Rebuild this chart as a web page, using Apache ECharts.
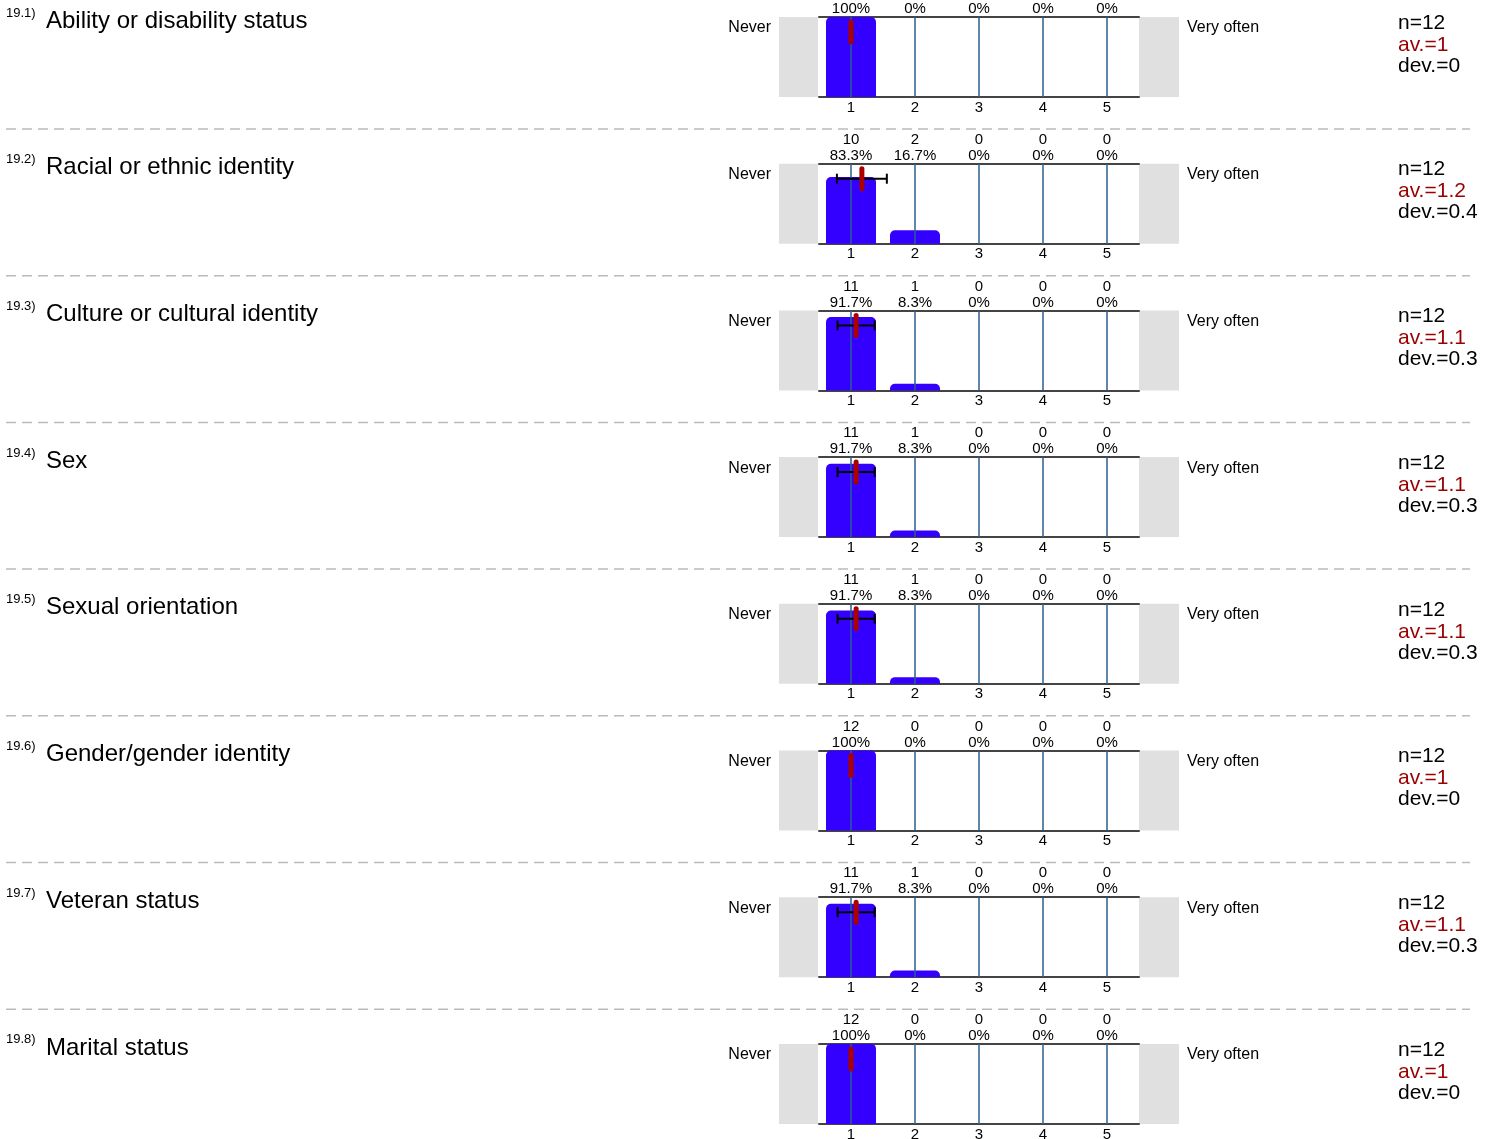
<!DOCTYPE html>
<html>
<head>
<meta charset="utf-8">
<script src="https://cdn.jsdelivr.net/npm/echarts@6/dist/echarts.min.js"></script>
<style>
  html, body { margin: 0; padding: 0; background: #fff; }
  #chart { width: 1497px; height: 1139px; }
</style>
</head>
<body>
<div id="chart"></div>
<script>
    // survey items, one row each
    const itemNumbers = ['19.1)', '19.2)', '19.3)', '19.4)', '19.5)', '19.6)', '19.7)', '19.8)'];
    const items = [
        'Ability or disability status',
        'Racial or ethnic identity',
        'Culture or cultural identity',
        'Sex',
        'Sexual orientation',
        'Gender/gender identity',
        'Veteran status',
        'Marital status',
    ];
    const scaleTicks = ['1', '2', '3', '4', '5'];
    const scaleValues = [1, 2, 3, 4, 5];
    const leftLabel = 'Never';
    const rightLabel = 'Very often';

    const counts = [
        [12, 0, 0, 0, 0],
        [10, 2, 0, 0, 0],
        [11, 1, 0, 0, 0],
        [11, 1, 0, 0, 0],
        [11, 1, 0, 0, 0],
        [12, 0, 0, 0, 0],
        [11, 1, 0, 0, 0],
        [12, 0, 0, 0, 0],
    ];
    const percents = [
        [100, 0, 0, 0, 0],
        [83.3, 16.7, 0, 0, 0],
        [91.7, 8.3, 0, 0, 0],
        [91.7, 8.3, 0, 0, 0],
        [91.7, 8.3, 0, 0, 0],
        [100, 0, 0, 0, 0],
        [91.7, 8.3, 0, 0, 0],
        [100, 0, 0, 0, 0],
    ];
    const means = [1, 1.17, 1.08, 1.08, 1.08, 1, 1.08, 1];
    const devs = [0, 0.39, 0.29, 0.29, 0.29, 0, 0.29, 0];
    const nLabels = ['12', '12', '12', '12', '12', '12', '12', '12'];
    const avLabels = ['1', '1.2', '1.1', '1.1', '1.1', '1', '1.1', '1'];
    const devLabels = ['0', '0.4', '0.3', '0.3', '0.3', '0', '0.3', '0'];

    // layout
    const FONT = '"Liberation Sans", Arial, sans-serif';
    const rowStep = 146.7;
    const plotTop = 17;
    const plotLeft = 819;
    const plotWidth = 320;
    const plotHeight = 80;
    const greyWidth = 40;

    const grid = [];
    const xAxis = [];
    const yAxis = [];
    const series = [];
    const graphic = [];

    items.forEach((name, i) => {
        const top = plotTop + i * rowStep;
        grid.push({ left: plotLeft, top: top, width: plotWidth, height: plotHeight, outerBoundsMode: 'none', containLabel: false });

        xAxis.push({
            gridIndex: i, type: 'category', data: scaleTicks, position: 'bottom',
            axisLine: { lineStyle: { color: '#444', width: 2 } },
            axisTick: { show: false },
            axisLabel: { color: '#000', fontSize: 15, margin: 3, interval: 0, fontFamily: FONT },
        });
        xAxis.push({
            gridIndex: i, type: 'category', data: scaleTicks, position: 'top',
            axisLine: { lineStyle: { color: '#444', width: 2 } },
            axisTick: { show: false },
            axisLabel: {
                color: '#000', fontSize: 15, lineHeight: 16, margin: 0, interval: 0, fontFamily: FONT,
                formatter: (v, idx) => counts[i][idx] + '\n' + percents[i][idx] + '%',
            },
        });
        xAxis.push({ gridIndex: i, type: 'value', min: 0.5, max: 5.5, show: false });
        yAxis.push({ gridIndex: i, type: 'value', min: 0, max: 100, show: false });

        series.push({
            type: 'bar',
            xAxisIndex: 3 * i, yAxisIndex: i,
            data: percents[i],
            barWidth: 50,
            itemStyle: { color: '#3300ff', borderRadius: [5, 5, 0, 0] },
            silent: true, z: 2,
        });
        // vertical guide lines at each scale point
        series.push({
            type: 'custom',
            xAxisIndex: 3 * i + 2, yAxisIndex: i,
            data: scaleValues,
            silent: true, z: 3,
            renderItem: (params, api) => {
                const p0 = api.coord([api.value(0), 0]);
                const p1 = api.coord([api.value(0), 100]);
                return {
                    type: 'line',
                    shape: { x1: p0[0], y1: p0[1], x2: p1[0], y2: p1[1] },
                    style: { stroke: '#2a5f93', lineWidth: 1.5 },
                };
            },
        });
        // mean marker + std deviation bar
        series.push({
            type: 'custom',
            xAxisIndex: 3 * i + 2, yAxisIndex: i,
            data: [[means[i], devs[i]]],
            silent: true, z: 4,
            renderItem: (params, api) => {
                const m = api.value(0);
                const d = api.value(1);
                const c = api.coord([m, 100]);
                const y = c[1] + 15;
                const children = [];
                if (d > 0) {
                    const a = api.coord([m - d, 100])[0];
                    const b = api.coord([m + d, 100])[0];
                    const ls = { stroke: '#000', lineWidth: 2 };
                    children.push({ type: 'line', shape: { x1: a, y1: y, x2: b, y2: y }, style: ls });
                    children.push({ type: 'line', shape: { x1: a, y1: y - 5, x2: a, y2: y + 5 }, style: ls });
                    children.push({ type: 'line', shape: { x1: b, y1: y - 5, x2: b, y2: y + 5 }, style: ls });
                }
                children.push({
                    type: 'line',
                    shape: { x1: c[0], y1: c[1] + 5, x2: c[0], y2: c[1] + 25 },
                    style: { stroke: '#aa0000', lineWidth: 5, lineCap: 'round' },
                });
                return { type: 'group', children: children };
            },
        });

        // grey end boxes
        graphic.push({ type: 'rect', shape: { x: plotLeft - greyWidth, y: top, width: greyWidth - 1, height: plotHeight }, style: { fill: '#e0e0e0' }, silent: true });
        graphic.push({ type: 'rect', shape: { x: plotLeft + plotWidth, y: top, width: greyWidth, height: plotHeight }, style: { fill: '#e0e0e0' }, silent: true });

        graphic.push({ type: 'text', x: 771, y: top + 11, style: { text: leftLabel, font: '16px ' + FONT, fill: '#000', align: 'right', verticalAlign: 'middle' } });
        graphic.push({ type: 'text', x: 1187, y: top + 11, style: { text: rightLabel, font: '16px ' + FONT, fill: '#000', align: 'left', verticalAlign: 'middle' } });

        graphic.push({ type: 'text', x: 6, y: top - 4, style: { text: itemNumbers[i], font: '13px ' + FONT, fill: '#000', align: 'left', verticalAlign: 'middle' } });
        graphic.push({ type: 'text', x: 46, y: top + 4, style: { text: name, font: '24px ' + FONT, fill: '#000', align: 'left', verticalAlign: 'middle' } });

        graphic.push({ type: 'text', x: 1398, y: top + 6, style: { text: 'n=' + nLabels[i], font: '21px ' + FONT, fill: '#000', verticalAlign: 'middle' } });
        graphic.push({ type: 'text', x: 1398, y: top + 28, style: { text: 'av.=' + avLabels[i], font: '21px ' + FONT, fill: '#990000', verticalAlign: 'middle' } });
        graphic.push({ type: 'text', x: 1398, y: top + 49, style: { text: 'dev.=' + devLabels[i], font: '21px ' + FONT, fill: '#000', verticalAlign: 'middle' } });

        if (i < items.length - 1) {
            const ly = top + 112;
            graphic.push({ type: 'line', shape: { x1: 6, y1: ly, x2: 1470, y2: ly }, style: { stroke: '#bbbbbb', lineWidth: 1.5, lineDash: [10, 6] }, silent: true });
        }
    });

    const chart = echarts.init(document.getElementById('chart'));
    chart.setOption({
        animation: false,
        textStyle: { fontFamily: FONT },
        grid: grid,
        xAxis: xAxis,
        yAxis: yAxis,
        series: series,
        graphic: graphic,
    });
</script>
</body>
</html>
